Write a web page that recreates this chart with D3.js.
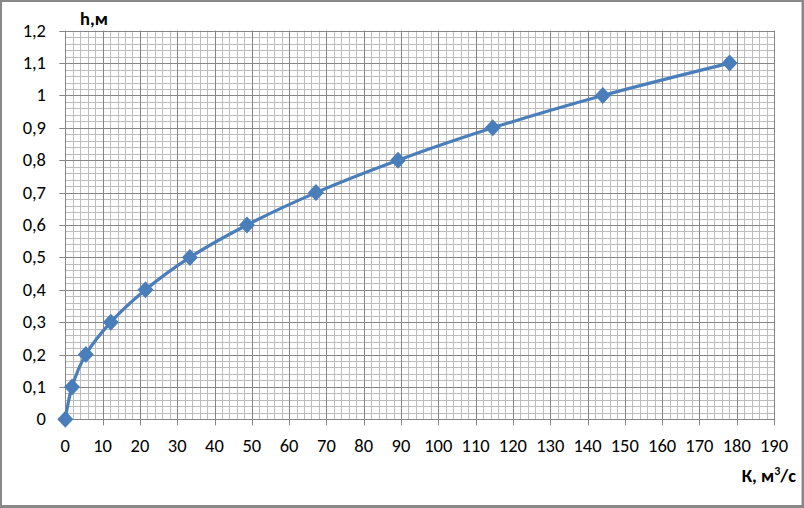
<!DOCTYPE html>
<html><head><meta charset="utf-8">
<script src="https://cdn.jsdelivr.net/npm/d3@7"></script>
<style>body{margin:0;background:#fff}svg{display:block}</style>
</head><body>
<script>
const flowK = [0, 1.8, 5.5, 12.2, 21.5, 33.4, 48.7, 67.2, 89.2, 114.6, 144.1, 178.1];
const heightH = [0, 0.1, 0.2, 0.3, 0.4, 0.5, 0.6, 0.7, 0.8, 0.9, 1.0, 1.1];
const xTicks = d3.range(0, 191, 10);
const yTicks = [0,0.1,0.2,0.3,0.4,0.5,0.6,0.7,0.8,0.9,1.0,1.1,1.2];
const yTickLabels = ["0","0,1","0,2","0,3","0,4","0,5","0,6","0,7","0,8","0,9","1","1,1","1,2"];

const W = 804, H = 508;
const svg = d3.select("body").append("svg").attr("width", W).attr("height", H);
svg.append("rect").attr("width", W).attr("height", H).attr("fill", "#888");
svg.append("rect").attr("x", 2).attr("y", 2).attr("width", 799.5).attr("height", 503).attr("fill", "#fff");

const x = d3.scaleLinear().domain([0, 190]).range([65.3, 774]);
const y = d3.scaleLinear().domain([0, 1.2]).range([419.3, 30.7]);

const font = "Calibri, Carlito, 'Open Sans', sans-serif";
const g = svg.append("g");
// minor grid
const minorX = d3.range(0, 190.01, 2), minorY = d3.range(0, 1.2001, 0.02);
g.selectAll(".mx").data(minorX).join("line")
  .attr("x1", d => Math.round(x(d)) + 0.5).attr("x2", d => Math.round(x(d)) + 0.5)
  .attr("y1", y(1.2)).attr("y2", y(0)).attr("stroke", "#bdbdbd").attr("stroke-width", 1);
g.selectAll(".my").data(minorY).join("line")
  .attr("y1", d => Math.round(y(d)) + 0.5).attr("y2", d => Math.round(y(d)) + 0.5)
  .attr("x1", x(0)).attr("x2", x(190)).attr("stroke", "#bdbdbd").attr("stroke-width", 1);
// major grid
g.selectAll(".Mx").data(xTicks).join("line")
  .attr("x1", d => Math.round(x(d)) + 0.5).attr("x2", d => Math.round(x(d)) + 0.5)
  .attr("y1", y(1.2)).attr("y2", y(0) + 6).attr("stroke", "#868686").attr("stroke-width", 1);
g.selectAll(".My").data(yTicks).join("line")
  .attr("y1", d => Math.round(y(d)) + 0.5).attr("y2", d => Math.round(y(d)) + 0.5)
  .attr("x1", x(0) - 6).attr("x2", x(190)).attr("stroke", "#868686").attr("stroke-width", 1);

// axis labels
g.selectAll(".xl").data(xTicks).join("text")
  .attr("x", d => x(d)).attr("y", 452).attr("text-anchor", "middle")
  .attr("font-family", font).attr("font-size", 18.5).attr("fill", "#000").text(d => d);
g.selectAll(".yl").data(yTicks).join("text")
  .attr("x", 46).attr("y", d => y(d) + 6).attr("text-anchor", "end")
  .attr("font-family", font).attr("font-size", 18.5).attr("fill", "#000")
  .text((d, i) => yTickLabels[i]);

svg.append("text").attr("x", 80).attr("y", 25).attr("font-family", font)
  .attr("font-size", 18.5).attr("font-weight", "bold").text("h,м");
const kt = svg.append("text").attr("x", 796).attr("y", 482).attr("text-anchor", "end")
  .attr("font-family", font).attr("font-size", 18.5).attr("font-weight", "bold");
kt.append("tspan").text("К, м");
kt.append("tspan").attr("dy", -7).attr("font-size", 12).text("3");
kt.append("tspan").attr("dy", 7).text("/с");

const pts = flowK.map((k, i) => [k, heightH[i]]);
const line = d3.line().x(d => x(d[0])).y(d => y(d[1])).curve(d3.curveCatmullRom.alpha(0.5));
svg.append("path").datum(pts).attr("d", line).attr("fill", "none")
  .attr("stroke", "#4a7ebb").attr("stroke-width", 3.2);
svg.selectAll(".pt").data(pts).join("path")
  .attr("transform", d => `translate(${x(d[0])},${y(d[1])})`)
  .attr("d", "M0,-8.5L8,0L0,8.5L-8,0Z").attr("fill", "#4a7ebb");
</script>
</body></html>
